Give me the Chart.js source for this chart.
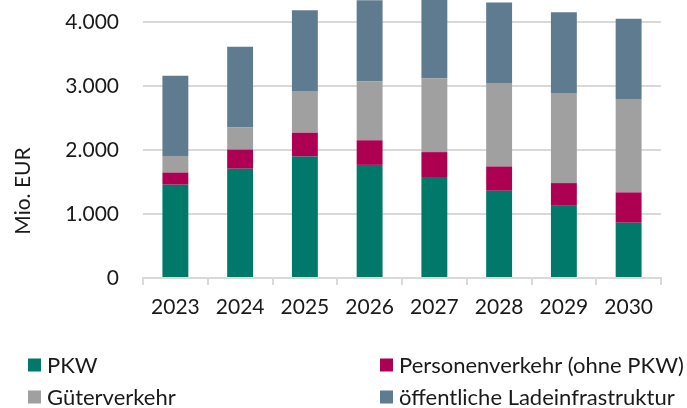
<!DOCTYPE html>
<html lang="de">
<head>
<meta charset="utf-8">
<script src="https://cdn.jsdelivr.net/npm/chart.js@4.4.1/dist/chart.umd.min.js"></script>
<style>
  body { margin: 0; background: #fff; }
  canvas { display: block; }
</style>
</head>
<body>
<canvas id="myChart" width="687" height="408"></canvas>
<script>
const jahre = ["2023", "2024", "2025", "2026", "2027", "2028", "2029", "2030"];

const pkw = [1460, 1710, 1900, 1770, 1580, 1365, 1130, 865];
const personenverkehr = [190, 300, 375, 385, 390, 380, 355, 475];
const gueterverkehr = [260, 350, 650, 920, 1150, 1305, 1410, 1460];
const ladeinfrastruktur = [1255, 1260, 1265, 1270, 1270, 1260, 1265, 1255];

const yTicks = [0, 1000, 2000, 3000, 4000];

const schrift = "Lato";
const textFarbe = "#1a1a1a";
const gitterFarbe = "#d9d9d9";

function punkt(v) {
  return String(v).replace(/\B(?=(\d{3})+(?!\d))/g, ".");
}

// Legende in zwei Spalten + Achsentitel, wie im Original
const legendePlugin = {
  id: "legende",
  afterDraw(chart) {
    const ctx = chart.ctx;
    const spalten = [28, 380];
    const zeilen = [365, 397];
    ctx.save();
    ctx.font = "22px " + schrift;
    ctx.textBaseline = "middle";
    ctx.textAlign = "left";
    chart.data.datasets.forEach((ds, i) => {
      const x = spalten[i % 2];
      const y = zeilen[Math.floor(i / 2)];
      ctx.fillStyle = ds.backgroundColor;
      ctx.fillRect(x, y - 6.5, 13, 13);
      ctx.fillStyle = textFarbe;
      ctx.fillText(ds.label, x + 19, y + 1);
    });
    ctx.font = "21px " + schrift;
    ctx.translate(23, 191);
    ctx.rotate(-Math.PI / 2);
    ctx.textAlign = "center";
    ctx.fillText("Mio. EUR", 0, 0);
    ctx.restore();
  }
};

const divChart = document.getElementById("myChart");

const myChart = new Chart(divChart, {
  type: "bar",
  data: {
    labels: jahre,
    datasets: [
      { label: "PKW", data: pkw, backgroundColor: "#00786a" },
      { label: "Personenverkehr (ohne PKW)", data: personenverkehr, backgroundColor: "#ae0052" },
      { label: "Güterverkehr", data: gueterverkehr, backgroundColor: "#a0a0a0" },
      { label: "öffentliche Ladeinfrastruktur", data: ladeinfrastruktur, backgroundColor: "#5e7b8f" },
    ],
  },
  options: {
    responsive: false,
    animation: false,
    layout: { padding: { top: 0, right: 26, bottom: 0, left: 0 } },
    datasets: {
      bar: { barPercentage: 0.4, categoryPercentage: 1.0 },
    },
    plugins: {
      legend: { display: false },
      tooltip: { enabled: false },
    },
    scales: {
      x: {
        stacked: true,
        afterFit(scale) { scale.height = 130; },
        grid: {
          drawOnChartArea: false,
          drawTicks: true,
          tickLength: 7,
          color: gitterFarbe,
          lineWidth: 2,
        },
        border: { color: gitterFarbe, width: 2 },
        ticks: {
          color: textFarbe,
          font: { family: schrift, size: 21 },
          padding: 10,
        },
      },
      y: {
        stacked: true,
        min: 0,
        max: 4350,
        afterFit(scale) {
          scale.width = 143;
          scale.paddingTop = 0;
          scale.paddingBottom = 0;
        },
        afterBuildTicks(scale) {
          scale.ticks = yTicks.map((v) => ({ value: v }));
        },
        grid: { color: gitterFarbe, lineWidth: 2, drawTicks: false },
        border: { display: false },
        ticks: {
          color: textFarbe,
          font: { family: schrift, size: 21 },
          padding: 24,
          callback: (v) => punkt(v),
        },
      },
    },
  },
  plugins: [legendePlugin],
});
</script>
</body>
</html>
